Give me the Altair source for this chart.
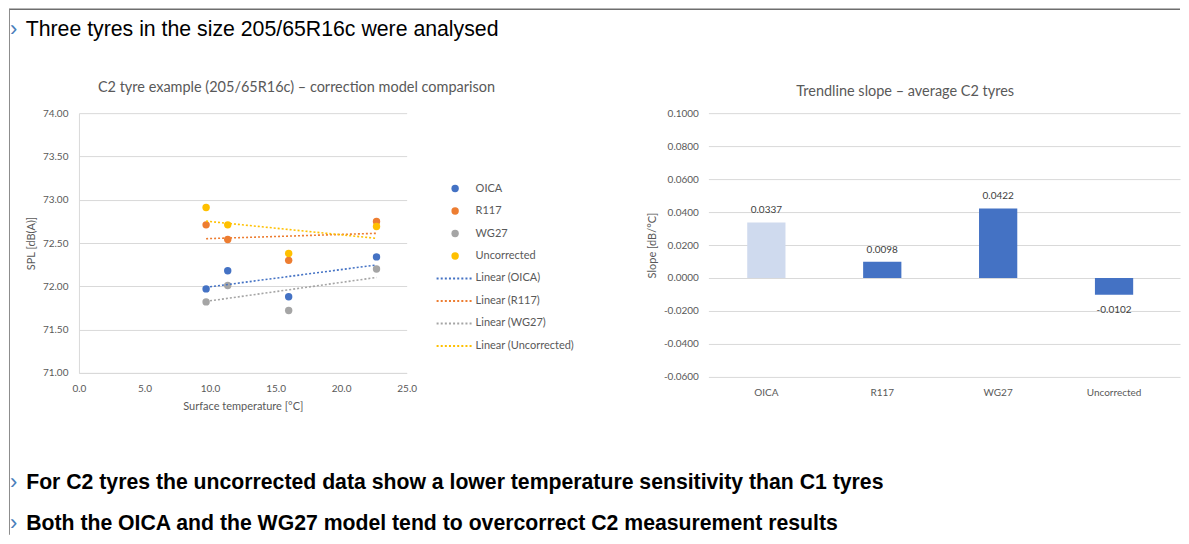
import altair as alt
import pandas as pd

# ---------------- data ----------------
temps = [9.7, 11.35, 16.0, 22.7]
oica = [71.97, 72.18, 71.88, 72.34]
r117 = [72.71, 72.54, 72.30, 72.75]
wg27 = [71.82, 72.01, 71.72, 72.20]
uncorrected = [72.91, 72.71, 72.38, 72.69]
series_names = ["OICA", "R117", "WG27", "Uncorrected"]

models = ["OICA", "R117", "WG27", "Uncorrected"]
slopes = [0.0337, 0.0098, 0.0422, -0.0102]

x_ticks = [0, 5, 10, 15, 20, 25]
spl_ticks = [71.0, 71.5, 72.0, 72.5, 73.0, 73.5, 74.0]
slope_ticks = [-0.06, -0.04, -0.02, 0.0, 0.02, 0.04, 0.06, 0.08, 0.10]

header_text = "Three tyres in the size 205/65R16c were analysed"
bullet_1 = "For C2 tyres the uncorrected data show a lower temperature sensitivity than C1 tyres"
bullet_2 = "Both the OICA and the WG27 model tend to overcorrect C2 measurement results"
left_title = "C2 tyre example (205/65R16c) \u2013 correction model comparison"
right_title = "Trendline slope \u2013 average C2 tyres"

# ---------------- style ----------------
FONT = "Lato"
SLIDE_FONT = "Liberation Sans"
TEXT_GREY = "#595959"
GRID = "#D9D9D9"
CHEVRON = "#4A7EBB"
colors = ["#4472C4", "#ED7D31", "#A5A5A5", "#FFC000"]

rows = []
for name, vals in zip(series_names, [oica, r117, wg27, uncorrected]):
    for t, v in zip(temps, vals):
        rows.append({"series": name, "temp": t, "spl": v})
scatter_df = pd.DataFrame(rows)

trend_names = ["Linear (" + s + ")" for s in series_names]
legend_domain = series_names + trend_names
legend_range = colors + colors
dots = " ".join(
    "M{:.3f},-0.27h0.54v0.54h-0.54Z".format(-5.0 + i * 1.1125) for i in range(9)
)
shape_range = ["circle"] * 4 + [dots] * 4

leg = alt.Legend(
    title=None, orient="none", legendX=371, legendY=70,
    symbolSize=55, symbolStrokeWidth=0,
    labelFont=FONT, labelFontSize=11, labelColor=TEXT_GREY,
    labelOffset=15, rowPadding=10.5,
)

points = alt.Chart(scatter_df).mark_point(filled=True, size=55, opacity=1).encode(
    x=alt.X("temp:Q", scale=alt.Scale(domain=[0, 25], nice=False),
            axis=alt.Axis(values=x_ticks, format=".1f", grid=False, domain=True,
                          domainColor=GRID, ticks=False, labelPadding=11, labelFlush=False,
                          title="Surface temperature [\u00b0C]", titlePadding=7)),
    y=alt.Y("spl:Q", scale=alt.Scale(domain=[71, 74], nice=False, zero=False),
            axis=alt.Axis(values=spl_ticks, format=".2f", grid=True, domain=True,
                          domainColor=GRID, ticks=False, labelPadding=11, labelFlush=False,
                          labelOverlap=False, title="SPL [dB(A)]", titlePadding=6)),
    color=alt.Color("series:N", scale=alt.Scale(domain=legend_domain, range=legend_range), legend=leg),
    shape=alt.Shape("series:N", scale=alt.Scale(domain=legend_domain, range=shape_range), legend=leg),
)

trend = alt.Chart(scatter_df).transform_regression(
    "temp", "spl", groupby=["series"]
).mark_line(strokeDash=[2, 2], strokeWidth=1.6).encode(
    x="temp:Q",
    y="spl:Q",
    stroke=alt.Stroke("series:N", scale=alt.Scale(domain=series_names, range=colors), legend=None),
    detail="series:N",
)

one = pd.DataFrame({"k": [0]})


def slide_text(txt, x, y, size, bold=False, color="black", font=SLIDE_FONT):
    return alt.Chart(pd.DataFrame({"t": [txt]})).mark_text(
        align="left", baseline="middle", fontSize=size,
        fontWeight="bold" if bold else "normal", color=color, font=font,
    ).encode(text="t:N", x=alt.value(x), y=alt.value(y))


decor = [
    alt.Chart(one).mark_rule(color="#6E6E6E", strokeWidth=1.5).encode(
        x=alt.value(-70), x2=alt.value(1102), y=alt.value(-104)),
    alt.Chart(one).mark_rule(color="#8C8C8C", strokeWidth=1).encode(
        x=alt.value(-69.5), y=alt.value(-104), y2=alt.value(422)),
    slide_text(left_title, 19, -25, 14.5, color=TEXT_GREY, font=FONT),
    slide_text("\u203a", -69, -84, 22, color=CHEVRON),
    slide_text(header_text, -53.3, -83, 21.3),
    slide_text("\u203a", -69, 369, 22, color=CHEVRON),
    slide_text(bullet_1, -52.8, 370, 21.25, bold=True),
    slide_text("\u203a", -69, 410, 22, color=CHEVRON),
    slide_text(bullet_2, -52.8, 411, 21.25, bold=True),
]

left = alt.layer(points, trend, *decor).properties(width=328, height=260)

HYPHEN_EXPR = "replace(format(datum.value, '.4f'), '\u2212', '-')"

bar_df = pd.DataFrame({"model": models, "slope": slopes})
bx = alt.X("model:N", sort=models,
           scale=alt.Scale(paddingInner=0, paddingOuter=0.0345, align=0),
           axis=alt.Axis(title=None, labelAngle=0, domain=False, ticks=False, tickSize=0,
                         labelPadding=11, grid=False))
by = alt.Y("slope:Q", scale=alt.Scale(domain=[-0.06, 0.1], nice=False, zero=False),
           axis=alt.Axis(values=slope_ticks, labelExpr=HYPHEN_EXPR, domain=False, ticks=False,
                         labelPadding=10, labelOverlap=False, labelFlush=False,
                         title="Slope [dB/\u00b0C]", titlePadding=6, grid=True))

bars = alt.Chart(bar_df).mark_bar(width={"band": 0.33}).encode(
    x=bx, y=by,
    color=alt.condition(alt.datum.model == "OICA", alt.value("#CFDAEE"), alt.value("#4472C4")),
)
labelled = alt.Chart(bar_df).transform_calculate(
    lbl="replace(format(datum.slope, '.4f'), '\u2212', '-')"
)
pos_labels = labelled.transform_filter(alt.datum.slope >= 0).mark_text(
    baseline="middle", dy=-12, fontSize=10, color="#404040", font=FONT
).encode(x=bx, y=by, text="lbl:N")
neg_labels = labelled.transform_filter(alt.datum.slope < 0).mark_text(
    baseline="middle", dy=15, fontSize=10, color="#404040", font=FONT
).encode(x=bx, y=by, text="lbl:N")
right_title_mark = alt.Chart(pd.DataFrame({"t": [right_title]})).mark_text(
    align="left", baseline="middle", fontSize=14.5, color=TEXT_GREY, font=FONT
).encode(text="t:N", x=alt.value(88), y=alt.value(-21))

right = alt.layer(bars, pos_labels, neg_labels, right_title_mark).properties(width=472, height=264)

chart = alt.hconcat(left, right, spacing=302, bounds="flush").properties(
    padding=0
).configure_view(stroke=None).configure_axis(
    labelFont=FONT, titleFont=FONT, labelColor=TEXT_GREY, titleColor=TEXT_GREY,
    gridColor=GRID, labelFontSize=10, titleFontSize=11, titleFontWeight="normal",
)

chart.save("out.html", embed_options={"renderer": "svg", "actions": False})
